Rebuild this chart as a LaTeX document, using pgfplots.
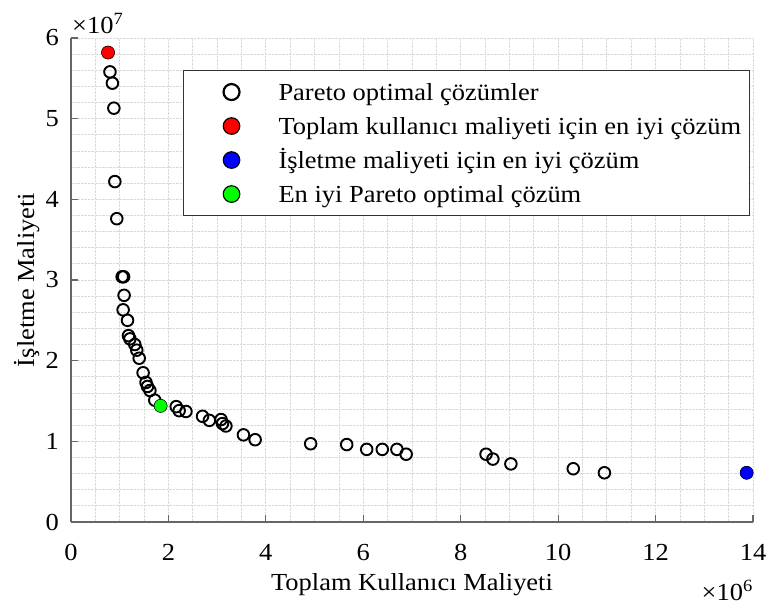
\documentclass[border=0pt]{standalone}
\usepackage{fontspec}
\setmainfont{Liberation Serif}[FakeStretch=1.08]
\usepackage{pgfplots}
\pgfplotsset{compat=1.18}

\definecolor{gridgray}{gray}{0.85}
\definecolor{axgray}{gray}{0.40}

\newcommand{\labelfont}{\fontsize{24.5bp}{29bp}\selectfont}

% Pareto front: total user cost vs. operating cost
\pgfplotstableread{
x        y
760000   58200000
800000   55800000
850000   54400000
880000   51300000
900000   42200000
940000   37600000
1050000  30400000
1080000  30400000
1090000  28100000
1070000  26300000
1160000  25000000
1180000  23100000
1210000  22700000
1310000  22000000
1350000  21300000
1400000  20300000
1480000  18500000
1540000  17300000
1570000  16800000
1620000  16300000
1720000  15100000
1840000  14400000
2160000  14300000
2220000  13800000
2360000  13700000
2700000  13100000
2840000  12600000
3080000  12700000
3110000  12200000
3180000  11900000
3540000  10800000
3780000  10200000
4920000  9700000
5660000  9600000
6070000  9000000
6390000  9000000
6690000  9000000
6880000  8400000
8520000  8400000
8660000  7800000
9030000  7200000
10310000 6600000
10950000 6100000
13870000 6100000
}\pareto

\pgfplotsset{
  % wide legend image with a single mark in its middle
  wideimage/.style={legend image code/.code={%
    \path[draw=none, fill=none] (0bp,-2bp) rectangle (80bp,2bp);
    \path[##1] plot coordinates {(40bp,0bp)};}},
}

\begin{document}
\begin{tikzpicture}[font=\labelfont]
\begin{axis}[
  scale only axis,
  width=682bp, height=484bp,
  xmin=0, xmax=14000000, ymin=0, ymax=60000000,
  axis x line*=bottom, axis y line*=left,
  axis line style={axgray, line width=1.2bp, -},
  xtick={0,2000000,4000000,6000000,8000000,10000000,12000000,14000000},
  ytick={0,10000000,20000000,30000000,40000000,50000000,60000000},
  minor x tick num=3, minor y tick num=4,
  grid=both,
  major grid style={gridgray, densely dotted, line width=0.8bp},
  minor grid style={gridgray, densely dotted, line width=0.8bp},
  tick align=inside,
  major tick length=7bp, minor tick length=0bp,
  tick style={axgray, line width=1.2bp},
  scaled x ticks=base 10:-6,
  scaled y ticks=base 10:-7,
  xtick scale label code/.code={},
  ytick scale label code/.code={},
  /pgf/number format/assume math mode=true,
  ticklabel style={font=\labelfont},
  xticklabel style={inner sep=0pt, yshift=-22bp},
  yticklabel style={inner sep=0pt, xshift=-12bp},
  xlabel={Toplam Kullanıcı Maliyeti},
  ylabel={İşletme Maliyeti},
  label style={font=\labelfont},
  xlabel style={inner sep=0pt, yshift=-13bp},
  ylabel style={inner sep=0pt, yshift=6bp},
  legend cell align=left,
  legend style={at={(axis description cs:0.1642,0.9339)}, anchor=north west,
    draw=black!80, line width=1.1bp, fill=white, font=\labelfont,
    inner xsep=8bp, inner ysep=10bp, row sep=11bp, column sep=7bp,
    nodes={inner sep=0bp, text height=20bp, text depth=3bp}},
]
\addplot[only marks, mark=o, mark size=5.8bp, line width=1.9bp, black, wideimage,
  legend image post style={mark size=8bp, line width=2.2bp}] table[x=x,y=y] {\pareto};
\addlegendentry{Pareto optimal çözümler}
\addplot[only marks, mark=*, mark size=6.5bp, draw=none, fill=red, wideimage,
  legend image post style={mark size=8.3bp}] coordinates {(760000,58200000)};
\addlegendentry{Toplam kullanıcı maliyeti için en iyi çözüm}
\addplot[only marks, mark=*, mark size=6.5bp, draw=none, fill=blue, wideimage,
  legend image post style={mark size=8.3bp}] coordinates {(13870000,6100000)};
\addlegendentry{İşletme maliyeti için en iyi çözüm}
\addplot[only marks, mark=*, mark size=6.5bp, draw=none, fill=green, wideimage,
  legend image post style={mark size=8.3bp}] coordinates {(1840000,14400000)};
\addlegendentry{En iyi Pareto optimal çözüm}
\end{axis}
% axis multipliers
\node[anchor=base west, inner sep=0pt] at ([shift={(1bp,4bp)}]current axis.north west) {×10\textsuperscript{7}};
\node[anchor=base east, inner sep=0pt] at ([shift={(0bp,-79bp)}]current axis.south east) {×10\textsuperscript{6}};
\pgfresetboundingbox
\path ([shift={(-71bp,-86bp)}]current axis.south west) rectangle ([shift={(18bp,38bp)}]current axis.north east);
\end{tikzpicture}
\end{document}
